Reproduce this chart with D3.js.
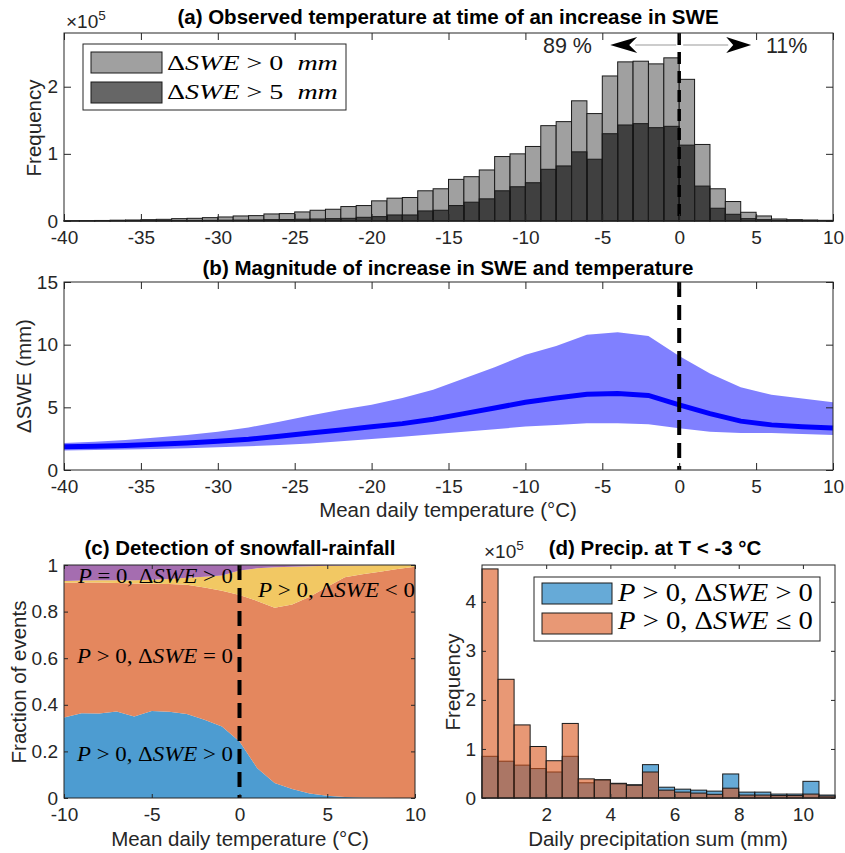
<!DOCTYPE html>
<html>
<head>
<meta charset="utf-8">
<script src="https://cdn.jsdelivr.net/npm/d3@7"></script>
<style>
  body { margin: 0; background: #fff; }
  text { font-family: "Liberation Sans", Arial, sans-serif; fill: #262626; }
  .tick text { font-size: 19px; }
  .lab { font-size: 20.5px; }
  .ttl { font-size: 20.5px; font-weight: bold; fill: #000; }
  .math { font-family: "Liberation Serif", "Times New Roman", serif; fill: #000; }
</style>
</head>
<body>
<script>
// ---------- data ----------
// (a) histogram of temperature at SWE increase, bin left edges (1 degC bins), counts x1e5
var tempEdges = [-40,-39,-38,-37,-36,-35,-34,-33,-32,-31,-30,-29,-28,-27,-26,-25,-24,-23,-22,-21,
                 -20,-19,-18,-17,-16,-15,-14,-13,-12,-11,-10,-9,-8,-7,-6,-5,-4,-3,-2,-1,
                 0,1,2,3,4,5,6,7,8,9];
var countSwe0 = [0.004,0.005,0.008,0.012,0.015,0.02,0.025,0.035,0.04,0.05,0.06,0.075,0.08,0.105,0.11,0.135,0.16,0.175,0.215,0.23,
                 0.30,0.34,0.35,0.45,0.48,0.62,0.66,0.76,0.96,1.00,1.11,1.42,1.48,1.79,1.60,2.16,2.37,2.38,2.34,2.43,
                 2.11,1.14,0.48,0.29,0.13,0.075,0.03,0.02,0.015,0.01];
var countSwe5 = [0.002,0.002,0.003,0.004,0.005,0.006,0.007,0.008,0.009,0.01,0.012,0.014,0.016,0.02,0.022,0.027,0.03,0.035,0.04,0.055,
                 0.065,0.09,0.09,0.15,0.16,0.23,0.28,0.33,0.45,0.51,0.57,0.77,0.82,1.03,0.92,1.30,1.43,1.45,1.39,1.41,
                 1.13,0.52,0.19,0.10,0.035,0.02,0.01,0.006,0.004,0.003];

// (b) magnitude of SWE increase vs temperature
var bTemp  = [-40,-38,-36,-34,-32,-30,-28,-26,-24,-22,-20,-18,-16,-14,-12,-10,-8,-6,-4,-2,0,2,4,6,8,10];
var bMean  = [1.85,1.9,1.95,2.05,2.15,2.3,2.45,2.7,2.95,3.2,3.45,3.7,4.05,4.5,4.95,5.4,5.75,6.05,6.1,5.95,5.2,4.5,3.9,3.6,3.45,3.35];
var bUpper = [2.15,2.25,2.4,2.6,2.8,3.05,3.4,3.85,4.35,4.8,5.2,5.75,6.4,7.3,8.2,9.2,9.9,10.8,11.0,10.7,9.1,7.7,6.6,6.0,5.7,5.4];
var bLower = [1.55,1.6,1.63,1.68,1.74,1.81,1.9,2.0,2.12,2.3,2.48,2.65,2.85,3.05,3.25,3.47,3.6,3.73,3.73,3.65,3.33,3.05,2.95,2.95,2.88,2.8];

// (c) fraction of events per category
var cTemp     = [-10,-9,-8,-7,-6,-5,-4,-3,-2,-1,0,1,2,3,4,5,6,7,8,9,10];
var fracSnow  = [0.346,0.364,0.363,0.371,0.35,0.373,0.37,0.361,0.336,0.307,0.243,0.129,0.064,0.039,0.019,0.01,0.004,0.002,0.001,0,0];
var fracZero  = [0.578,0.561,0.562,0.552,0.571,0.547,0.548,0.554,0.567,0.583,0.628,0.717,0.753,0.792,0.845,0.897,0.943,0.958,0.970,0.983,0.993];
var fracMelt  = [0.007,0.008,0.01,0.012,0.014,0.017,0.022,0.03,0.047,0.065,0.105,0.14,0.173,0.162,0.131,0.09,0.051,0.039,0.029,0.017,0.007];
var fracNoP   = [0.069,0.067,0.065,0.065,0.065,0.063,0.06,0.055,0.05,0.045,0.024,0.014,0.01,0.007,0.005,0.003,0.002,0.001,0,0,0];

// (d) precipitation histogram at T < -3 degC, 0.5 mm bins, counts x1e5
var precEdges = [0,0.5,1,1.5,2,2.5,3,3.5,4,4.5,5,5.5,6,6.5,7,7.5,8,8.5,9,9.5,10,10.5];
var precPos   = [0.85,0.75,0.67,0.6,0.53,0.85,0.31,0.37,0.3,0.27,0.68,0.22,0.18,0.16,0.14,0.49,0.12,0.12,0.08,0.08,0.34,0.06];
var precNeg   = [4.67,2.42,1.49,1.05,0.76,1.52,0.39,0.37,0.29,0.26,0.53,0.16,0.12,0.10,0.075,0.2,0.06,0.06,0.05,0.05,0.08,0.04];

// ---------- helpers ----------
var svg = d3.select("body").append("svg").attr("width", 845).attr("height", 853);
svg.append("rect").attr("width", 845).attr("height", 853).attr("fill", "#fff");

function frame(g, x, y, xt, yt, xf, yf, tl) {
  var r = x.range(), ry = y.range();
  var bot = ry[0], top = ry[1], left = r[0], right = r[1];
  g.append("g").attr("transform", "translate(0," + bot + ")")
    .call(d3.axisBottom(x).tickValues(xt).tickFormat(xf).tickSizeInner(-tl).tickSizeOuter(0).tickPadding(10));
  g.append("g").attr("transform", "translate(0," + top + ")")
    .call(d3.axisTop(x).tickValues(xt).tickFormat("").tickSizeInner(-tl).tickSizeOuter(0));
  g.append("g").attr("transform", "translate(" + left + ",0)")
    .call(d3.axisLeft(y).tickValues(yt).tickFormat(yf).tickSizeInner(-tl).tickSizeOuter(0).tickPadding(6));
  g.append("g").attr("transform", "translate(" + right + ",0)")
    .call(d3.axisRight(y).tickValues(yt).tickFormat("").tickSizeInner(-tl).tickSizeOuter(0));
  g.selectAll(".domain").remove();
  g.selectAll(".tick line").attr("stroke", "#262626");
  g.selectAll(".tick text").attr("fill", "#262626");
  g.append("rect").attr("x", left).attr("y", top).attr("width", right - left).attr("height", bot - top)
    .attr("fill", "none").attr("stroke", "#262626").attr("stroke-width", 1);
}

// LaTeX-like math label: glyphs stretched horizontally to the measured width
function mathText(g, x, y, size, width, parts) {
  var t = g.append("text").attr("class", "math").attr("font-size", size)
    .style("white-space", "pre");
  parts.forEach(function(p) {
    t.append("tspan").attr("font-style", p[1] ? "italic" : "normal").text(p[0]);
  });
  var w = t.node().getComputedTextLength();
  t.attr("transform", "translate(" + x + "," + y + ") scale(" + (width / w) + ",1)");
}

function times10(g, x, y) {
  var t = g.append("text").attr("x", x).attr("y", y).attr("font-size", 19);
  t.append("tspan").text("\u00d710");
  t.append("tspan").attr("dy", -8).attr("font-size", 13.5).text("5");
}

function fmtDash(d) { return d < 0 ? "-" + Math.abs(d) : String(d); }

// ---------- (a) ----------
var ga = svg.append("g");
var xa = d3.scaleLinear().domain([-40, 10]).range([64, 833]);
var ya = d3.scaleLinear().domain([0, 2.8]).range([221, 33]);

ga.append("g").selectAll("rect").data(tempEdges).join("rect")
  .attr("x", function(d) { return xa(d); })
  .attr("width", function(d) { return xa(d + 1) - xa(d); })
  .attr("y", function(d, i) { return ya(countSwe0[i]); })
  .attr("height", function(d, i) { return ya(0) - ya(countSwe0[i]); })
  .attr("fill", "#a0a0a0").attr("stroke", "#1a1a1a").attr("stroke-width", 1);
ga.append("g").selectAll("rect").data(tempEdges).join("rect")
  .attr("x", function(d) { return xa(d); })
  .attr("width", function(d) { return xa(d + 1) - xa(d); })
  .attr("y", function(d, i) { return ya(countSwe5[i]); })
  .attr("height", function(d, i) { return ya(0) - ya(countSwe5[i]); })
  .attr("fill", "#000").attr("fill-opacity", 0.6).attr("stroke", "#1a1a1a").attr("stroke-width", 1);

ga.append("line").attr("x1", xa(0)).attr("x2", xa(0)).attr("y1", 33).attr("y2", 221)
  .attr("stroke", "#000").attr("stroke-width", 3.5).attr("stroke-dasharray", "12,7");

frame(ga, xa, ya, [-40,-35,-30,-25,-20,-15,-10,-5,0,5,10], [0,1,2], fmtDash, d3.format("d"), 7);

// percentage arrows
var x0a = xa(0);
ga.append("line").attr("x1", x0a - 44).attr("x2", x0a - 3).attr("y1", 45).attr("y2", 45).attr("stroke", "#999").attr("stroke-width", 1);
ga.append("line").attr("x1", x0a + 4).attr("x2", x0a + 49).attr("y1", 45).attr("y2", 45).attr("stroke", "#999").attr("stroke-width", 1);
ga.append("path").attr("d", "M" + (x0a - 69) + ",45 L" + (x0a - 42) + ",37 L" + (x0a - 50) + ",45 L" + (x0a - 42) + ",53 Z").attr("fill", "#000");
ga.append("path").attr("d", "M" + (x0a + 72) + ",45 L" + (x0a + 47) + ",37 L" + (x0a + 54) + ",45 L" + (x0a + 47) + ",53 Z").attr("fill", "#000");
ga.append("text").attr("x", 592).attr("y", 53).attr("text-anchor", "end").attr("font-size", 21.5).attr("fill", "#000").text("89 %");
ga.append("text").attr("x", 766).attr("y", 53).attr("font-size", 21.5).attr("fill", "#000").text("11%");

// legend (a)
ga.append("rect").attr("x", 83).attr("y", 44).attr("width", 263).attr("height", 66).attr("fill", "#fff").attr("stroke", "#262626");
ga.append("rect").attr("x", 91).attr("y", 52).attr("width", 71).attr("height", 21).attr("fill", "#a0a0a0").attr("stroke", "#1a1a1a");
ga.append("rect").attr("x", 91).attr("y", 82).attr("width", 71).attr("height", 21).attr("fill", "#000").attr("fill-opacity", 0.6).attr("stroke", "#1a1a1a");
mathText(ga, 167, 70, 22, 171, [["\u0394", 0], ["SWE", 1], [" > 0  ", 0], ["mm", 1]]);
mathText(ga, 167, 99, 22, 171, [["\u0394", 0], ["SWE", 1], [" > 5  ", 0], ["mm", 1]]);

ga.append("text").attr("class", "ttl").attr("x", 448).attr("y", 24).attr("text-anchor", "middle")
  .text("(a) Observed temperature at time of an increase in SWE");
times10(ga, 66, 28);
ga.append("text").attr("class", "lab").attr("text-anchor", "middle")
  .attr("transform", "translate(41,128) rotate(-90)").text("Frequency");

// ---------- (b) ----------
var gb = svg.append("g");
var xb = d3.scaleLinear().domain([-40, 10]).range([64, 833]);
var yb = d3.scaleLinear().domain([0, 15]).range([470, 282]);

gb.append("path").datum(bTemp)
  .attr("d", d3.area().x(function(d) { return xb(d); })
    .y0(function(d, i) { return yb(bLower[i]); })
    .y1(function(d, i) { return yb(bUpper[i]); }))
  .attr("fill", "#8080ff");
gb.append("path").datum(bTemp)
  .attr("d", d3.line().x(function(d) { return xb(d); }).y(function(d, i) { return yb(bMean[i]); }))
  .attr("fill", "none").attr("stroke", "#0000ff").attr("stroke-width", 5);
gb.append("line").attr("x1", xb(0)).attr("x2", xb(0)).attr("y1", 282).attr("y2", 470)
  .attr("stroke", "#000").attr("stroke-width", 4).attr("stroke-dasharray", "15,8");

frame(gb, xb, yb, [-40,-35,-30,-25,-20,-15,-10,-5,0,5,10], [0,5,10,15], fmtDash, d3.format("d"), 7);

gb.append("text").attr("class", "ttl").attr("x", 448).attr("y", 275).attr("text-anchor", "middle")
  .text("(b) Magnitude of increase in SWE and temperature");
gb.append("text").attr("class", "lab").attr("x", 448).attr("y", 517).attr("text-anchor", "middle")
  .text("Mean daily temperature (\u00b0C)");
gb.append("text").attr("class", "lab").attr("text-anchor", "middle")
  .attr("transform", "translate(31,376) rotate(-90)").text("\u0394SWE (mm)");

// ---------- (c) ----------
var gc = svg.append("g");
var xc = d3.scaleLinear().domain([-10, 10]).range([64, 415]);
var yc = d3.scaleLinear().domain([0, 1]).range([798, 565]);
var cRows = cTemp.map(function(t, i) {
  return { t: t, snow: fracSnow[i], zero: fracZero[i], melt: fracMelt[i], nop: fracNoP[i] };
});
var cKeys = ["snow", "zero", "melt", "nop"];
var cColors = { snow: "#4d9cd1", zero: "#e4875e", melt: "#f2c863", nop: "#a56db0" };
var stackC = d3.stack().keys(cKeys)(cRows);
gc.append("g").selectAll("path").data(stackC).join("path")
  .attr("d", d3.area().x(function(d) { return xc(d.data.t); })
    .y0(function(d) { return yc(d[0]); }).y1(function(d) { return yc(d[1]); }))
  .attr("fill", function(s) { return cColors[s.key]; });

mathText(gc, 78, 583, 20, 155, [["P", 1], [" = 0, ", 0], ["\u0394", 0], ["SWE", 1], [" > 0", 0]]);
mathText(gc, 258, 597, 20, 157, [["P", 1], [" > 0, ", 0], ["\u0394", 0], ["SWE", 1], [" < 0", 0]]);
mathText(gc, 77, 663, 20, 156, [["P", 1], [" > 0, ", 0], ["\u0394", 0], ["SWE", 1], [" = 0", 0]]);
mathText(gc, 77, 761, 20, 156, [["P", 1], [" > 0, ", 0], ["\u0394", 0], ["SWE", 1], [" > 0", 0]]);

gc.append("line").attr("x1", xc(0)).attr("x2", xc(0)).attr("y1", 565).attr("y2", 798)
  .attr("stroke", "#000").attr("stroke-width", 4).attr("stroke-dasharray", "15,8");

frame(gc, xc, yc, [-10,-5,0,5,10], [0,0.2,0.4,0.6,0.8,1], fmtDash, function(d) { return String(d); }, 4);

gc.append("text").attr("class", "ttl").attr("x", 240).attr("y", 555).attr("text-anchor", "middle")
  .text("(c) Detection of snowfall-rainfall");
gc.append("text").attr("class", "lab").attr("x", 240).attr("y", 846).attr("text-anchor", "middle")
  .text("Mean daily temperature (\u00b0C)");
gc.append("text").attr("class", "lab").attr("text-anchor", "middle")
  .attr("transform", "translate(26,682) rotate(-90)").text("Fraction of events");

// ---------- (d) ----------
var gd = svg.append("g");
var xd = d3.scaleLinear().domain([0, 11]).range([482, 835]);
var yd = d3.scaleLinear().domain([0, 4.75]).range([798, 565]);

gd.append("g").selectAll("rect").data(precEdges).join("rect")
  .attr("x", function(d) { return xd(d); })
  .attr("width", function(d) { return xd(d + 0.5) - xd(d); })
  .attr("y", function(d, i) { return yd(precPos[i]); })
  .attr("height", function(d, i) { return yd(0) - yd(precPos[i]); })
  .attr("fill", "#0072bd").attr("fill-opacity", 0.6).attr("stroke", "#1a1a1a").attr("stroke-width", 1);
gd.append("g").selectAll("rect").data(precEdges).join("rect")
  .attr("x", function(d) { return xd(d); })
  .attr("width", function(d) { return xd(d + 0.5) - xd(d); })
  .attr("y", function(d, i) { return yd(precNeg[i]); })
  .attr("height", function(d, i) { return yd(0) - yd(precNeg[i]); })
  .attr("fill", "#d95319").attr("fill-opacity", 0.6).attr("stroke", "#1a1a1a").attr("stroke-width", 1);

frame(gd, xd, yd, [2,4,6,8,10], [0,1,2,3,4], d3.format("d"), d3.format("d"), 4);

gd.append("rect").attr("x", 534).attr("y", 577).attr("width", 286).attr("height", 64).attr("fill", "#fff").attr("stroke", "#262626");
gd.append("rect").attr("x", 542).attr("y", 583).attr("width", 70).attr("height", 21).attr("fill", "#0072bd").attr("fill-opacity", 0.6).attr("stroke", "#1a1a1a");
gd.append("rect").attr("x", 542).attr("y", 613).attr("width", 70).attr("height", 21).attr("fill", "#d95319").attr("fill-opacity", 0.6).attr("stroke", "#1a1a1a");
mathText(gd, 618, 601, 25, 195, [["P", 1], [" > 0, ", 0], ["\u0394", 0], ["SWE", 1], [" > 0", 0]]);
mathText(gd, 618, 629, 25, 195, [["P", 1], [" > 0, ", 0], ["\u0394", 0], ["SWE", 1], [" \u2264 0", 0]]);

gd.append("text").attr("class", "ttl").attr("x", 655).attr("y", 555).attr("text-anchor", "middle")
  .text("(d) Precip. at T < -3 \u00b0C");
times10(gd, 484, 558);
gd.append("text").attr("class", "lab").attr("x", 658).attr("y", 846).attr("text-anchor", "middle")
  .text("Daily precipitation sum (mm)");
gd.append("text").attr("class", "lab").attr("text-anchor", "middle")
  .attr("transform", "translate(460,682) rotate(-90)").text("Frequency");
</script>
</body>
</html>
